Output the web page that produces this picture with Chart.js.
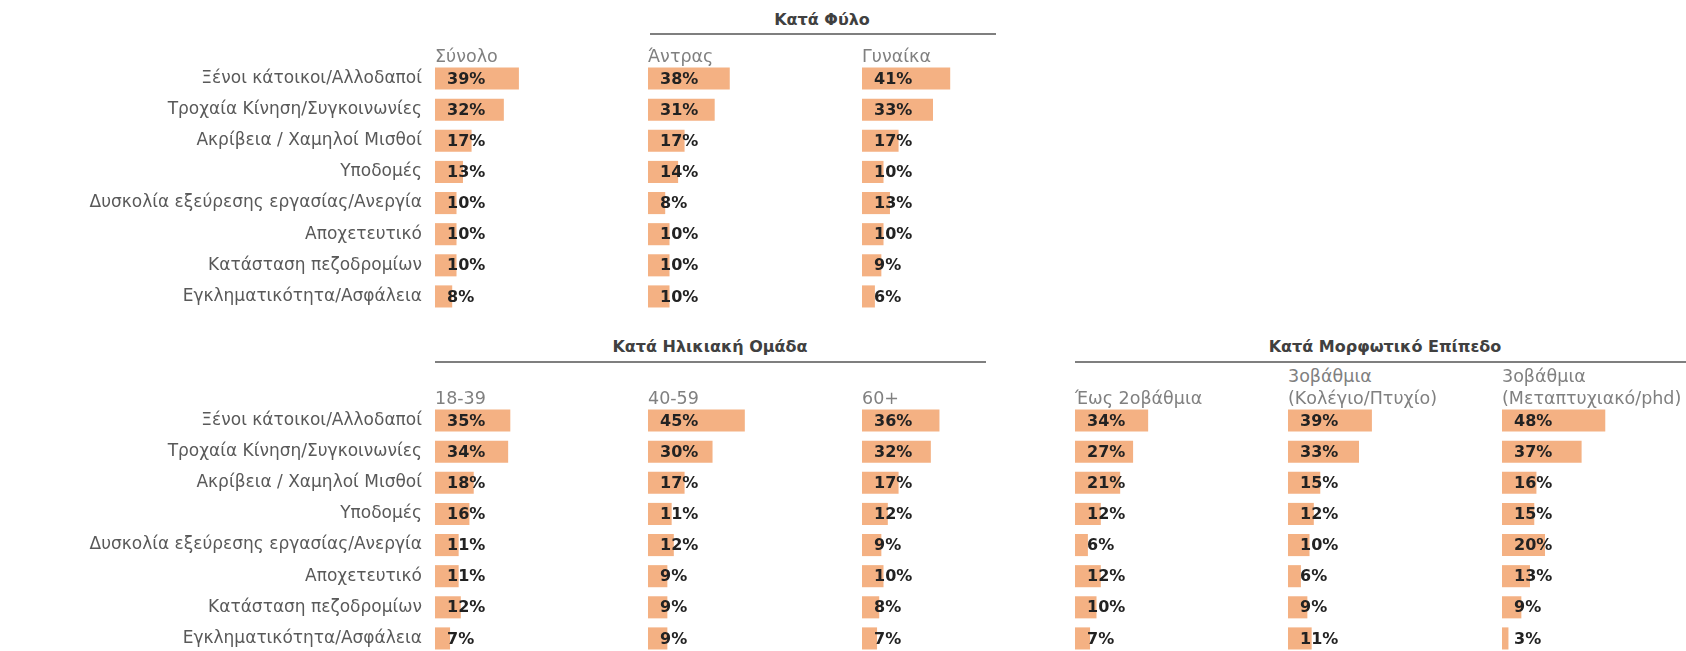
<!DOCTYPE html>
<html>
<head>
<meta charset="utf-8">
<script src="https://cdn.jsdelivr.net/npm/chart.js@4.4.1/dist/chart.umd.min.js"></script>
<style>
  html, body { margin:0; padding:0; background:#fff; }
  #wrap { position:relative; width:1686px; height:651px; overflow:hidden; font-family:"DejaVu Sans", sans-serif; }
  canvas { position:absolute; }
  .t { position:absolute; white-space:nowrap; line-height:20px; }
  .title { font-weight:bold; font-size:16px; color:#404040; transform:translateX(-50%); }
  .hdr { font-size:17.5px; color:#808080; }
  .rule { position:absolute; height:2px; background:#7f7f7f; }
</style>
</head>
<body>
<div id="wrap"></div>
<script>
// ---- data ----
const categories = [
  'Ξένοι κάτοικοι/Αλλοδαποί',
  'Τροχαία Κίνηση/Συγκοινωνίες',
  'Ακρίβεια / Χαμηλοί Μισθοί',
  'Υποδομές',
  'Δυσκολία εξεύρεσης εργασίας/Ανεργία',
  'Αποχετευτικό',
  'Κατάσταση πεζοδρομίων',
  'Εγκληματικότητα/Ασφάλεια'
];
const total    = [39, 32, 17, 13, 10, 10, 10, 8];
const men      = [38, 31, 17, 14, 8, 10, 10, 10];
const women    = [41, 33, 17, 10, 13, 10, 9, 6];
const age1839  = [35, 34, 18, 16, 11, 11, 12, 7];
const age4059  = [45, 30, 17, 11, 12, 9, 9, 9];
const age60    = [36, 32, 17, 12, 9, 10, 8, 7];
const edu1     = [34, 27, 21, 12, 6, 12, 10, 7];
const edu2     = [39, 33, 15, 12, 10, 6, 9, 11];
const edu3     = [48, 37, 16, 15, 20, 13, 9, 3];

const groupTitles = ['Κατά Φύλο', 'Κατά Ηλικιακή Ομάδα', 'Κατά Μορφωτικό Επίπεδο'];
const headersTop = ['Σύνολο', 'Άντρας', 'Γυναίκα'];
const headersAge = ['18-39', '40-59', '60+'];
const headersEdu = [['Έως 2οβάθμια'], ['3οβάθμια', '(Κολέγιο/Πτυχίο)'], ['3οβάθμια', '(Μεταπτυχιακό/phd)']];

// ---- layout ----
const wrap = document.getElementById('wrap');
const colX = [435, 648, 862, 1075, 1288, 1502];
const colW = 213;
const labelW = 435;
const topY = 63, botY = 405, panelH = 249;
const barColor = '#F4B183';

function addText(cls, txt, x, cy) {
  const d = document.createElement('div');
  d.className = 't ' + cls;
  d.textContent = txt;
  d.style.left = x + 'px';
  d.style.top = (cy - 10) + 'px';
  wrap.appendChild(d);
}
function addRule(x1, x2, y) {
  const d = document.createElement('div');
  d.className = 'rule';
  d.style.left = x1 + 'px';
  d.style.width = (x2 - x1) + 'px';
  d.style.top = (y - 1) + 'px';
  wrap.appendChild(d);
}

const valuePlugin = {
  id: 'vals',
  afterDatasetsDraw(chart) {
    const ctx = chart.ctx;
    const ds = chart.data.datasets[0];
    const meta = chart.getDatasetMeta(0);
    ctx.save();
    ctx.font = 'bold 16px "DejaVu Sans"';
    ctx.fillStyle = '#222222';
    ctx.textAlign = 'left';
    ctx.textBaseline = 'middle';
    meta.data.forEach((el, i) => {
      ctx.fillText(ds.data[i] + '%', el.base + 12, el.y + 1);
    });
    ctx.restore();
  }
};

function makePanel(values, x, y, withLabels) {
  const c = document.createElement('canvas');
  const left = withLabels ? 0 : x;
  const w = withLabels ? labelW + colW : colW;
  c.width = w; c.height = panelH;
  c.style.left = left + 'px'; c.style.top = y + 'px';
  c.style.width = w + 'px'; c.style.height = panelH + 'px';
  wrap.appendChild(c);
  new Chart(c, {
    type: 'bar',
    data: {
      labels: categories,
      datasets: [{ data: values, backgroundColor: barColor, borderWidth: 0,
                   categoryPercentage: 1, barPercentage: 0.71 }]
    },
    options: {
      indexAxis: 'y',
      responsive: false,
      animation: false,
      devicePixelRatio: 1,
      layout: { padding: 0 },
      plugins: { legend: { display: false }, tooltip: { enabled: false }, title: { display: false } },
      scales: {
        x: { display: false, min: 0, max: 99 },
        y: {
          display: withLabels,
          grid: { display: false, drawTicks: false },
          border: { display: false },
          ticks: { autoSkip: false, color: '#595959', padding: 13,
                   font: { family: 'DejaVu Sans', size: 17 } },
          afterFit(s) {
            if (withLabels) { s.width = labelW; }
            s.paddingTop = 0; s.paddingBottom = 0;
          }
        }
      }
    },
    plugins: [valuePlugin]
  });
}

// top row
makePanel(total, colX[0], topY, true);
makePanel(men, colX[1], topY, false);
makePanel(women, colX[2], topY, false);
// bottom row
makePanel(age1839, colX[0], botY, true);
makePanel(age4059, colX[1], botY, false);
makePanel(age60, colX[2], botY, false);
makePanel(edu1, colX[3], botY, false);
makePanel(edu2, colX[4], botY, false);
makePanel(edu3, colX[5], botY, false);

// group titles and rules
addRule(650, 996, 34);
addText('title', groupTitles[0], 822, 20);
addRule(435, 986, 362);
addText('title', groupTitles[1], 710, 347);
addRule(1075, 1686, 362);
addText('title', groupTitles[2], 1385, 347);

// column headers
headersTop.forEach((h, i) => addText('hdr', h, colX[i], 56));
headersAge.forEach((h, i) => addText('hdr', h, colX[i], 398));
headersEdu.forEach((lines, i) => {
  if (lines.length === 1) addText('hdr', lines[0], colX[3 + i], 398);
  else { addText('hdr', lines[0], colX[3 + i], 376); addText('hdr', lines[1], colX[3 + i], 398); }
});
</script>
</body>
</html>
